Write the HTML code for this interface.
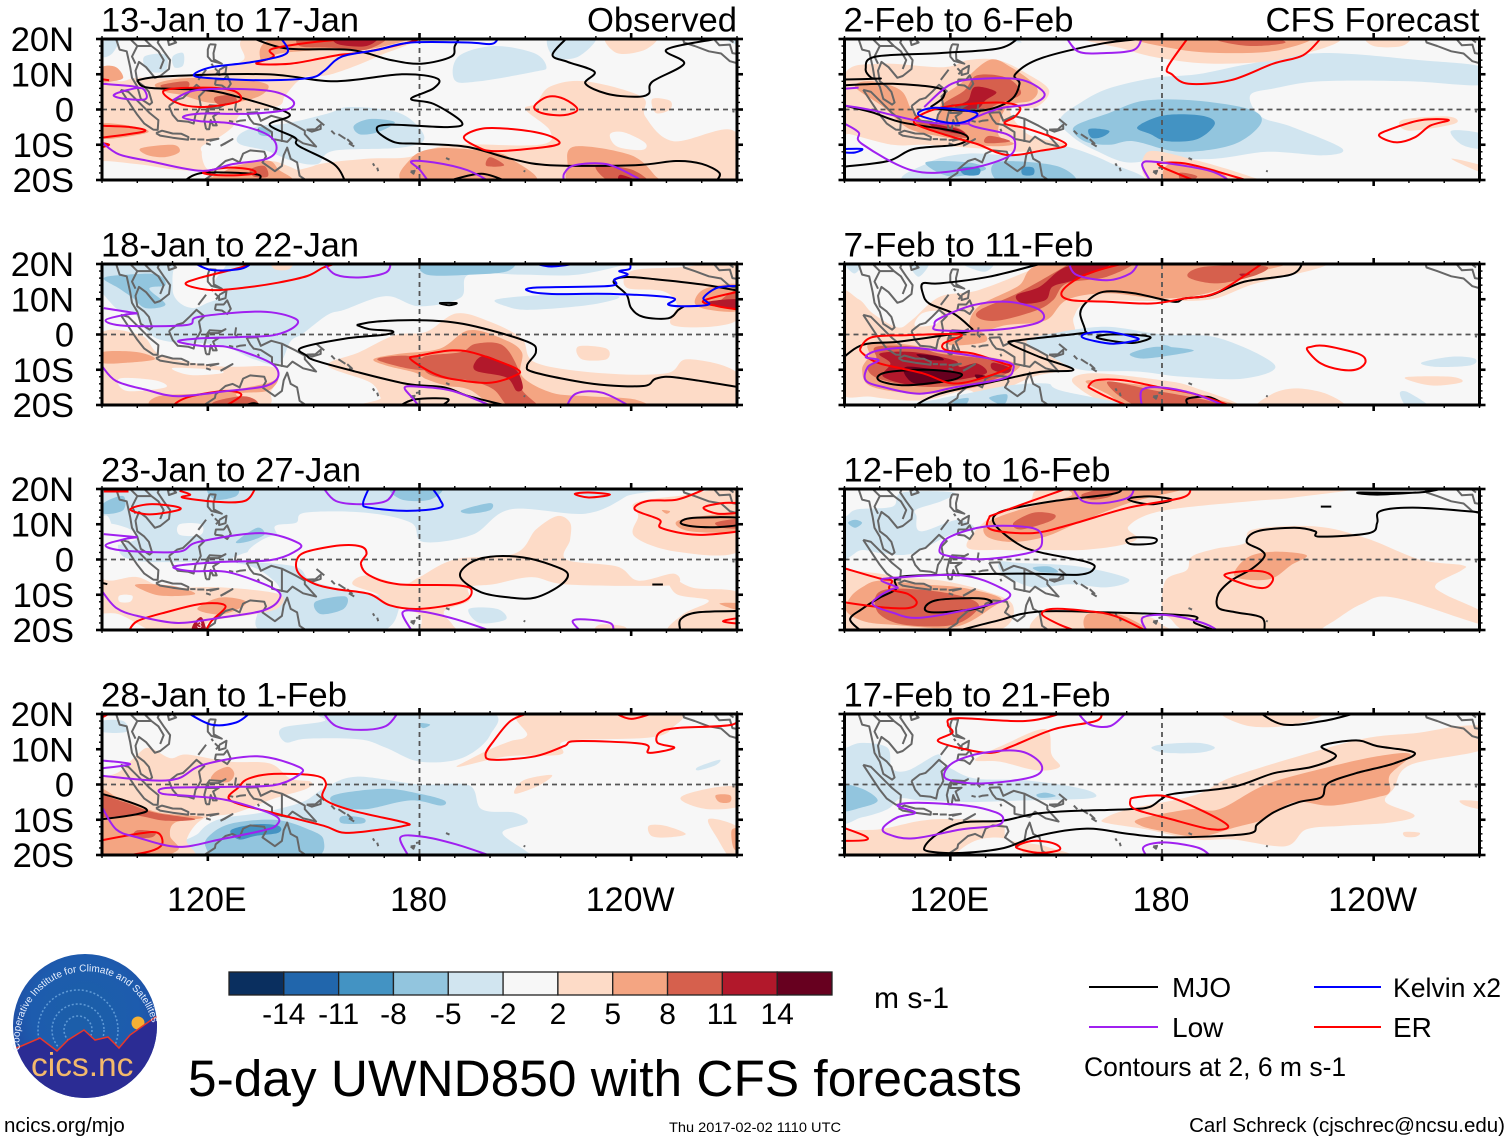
<!DOCTYPE html>
<html lang="en">
<head>
<meta charset="utf-8">
<title>5-day UWND850 with CFS forecasts</title>
<style>
html,body{margin:0;padding:0;background:#fff;}
body{width:1510px;height:1142px;overflow:hidden;}
svg{display:block;}
text{font-family:"Liberation Sans",sans-serif;fill:#000;}
</style>
</head>
<body>
<svg id="chart" xmlns="http://www.w3.org/2000/svg" width="1510" height="1142" viewBox="0 0 1510 1142">
<defs>
<radialGradient id="logo-sky" cx="50%" cy="40%" r="62%">
<stop offset="0%" stop-color="#1c5fa8"/><stop offset="60%" stop-color="#1d5cae"/><stop offset="100%" stop-color="#22459f"/>
</radialGradient>
<clipPath id="logo-clip"><circle cx="85" cy="1026" r="72"/></clipPath>
<path id="logo-arc" d="M 20 1050 A 67 69 0 1 1 154 1032"/>
</defs>
<g id="panels"></g>
<g id="colorbar"></g>

<g>
<circle cx="85" cy="1026" r="72" fill="url(#logo-sky)"/>
<g clip-path="url(#logo-clip)">
<circle cx="78" cy="1030" r="14" fill="none" stroke="#5f9ad6" stroke-width="1.5" stroke-dasharray="2 2"/>
<circle cx="78" cy="1030" r="26" fill="none" stroke="#5f9ad6" stroke-width="1.5" stroke-dasharray="2 2"/>
<circle cx="78" cy="1030" r="40" fill="none" stroke="#5f9ad6" stroke-width="1.5" stroke-dasharray="2 2"/>
<circle cx="138" cy="1023" r="6.5" fill="#f6b035"/>
<path d="M10 1050 L19 1047 L40 1038 L57 1051 L68 1040 L84 1030 L95 1040 L108 1037 L119 1048 L130 1035 L154 1018 L170 1010 L170 1110 L0 1110 Z" fill="#2b2c94" stroke="#e8372a" stroke-width="1.5"/>
</g>
<text font-size="10" style="fill:#e8f0ff"><textPath href="#logo-arc">Cooperative Institute for Climate and Satellites</textPath></text>
<text x="31" y="1076" font-size="33.5" style="fill:#f3b96b">cics.nc</text>
</g>

<text x="874" y="1008" font-size="30">m s-1</text>
<text x="188" y="1096" font-size="51.4">5-day UWND850 with CFS forecasts</text>

<g>
<line x1="1089" x2="1158" y1="987" y2="987" stroke="#000" stroke-width="2"/>
<text x="1172" y="997" font-size="28">MJO</text>
<line x1="1314" x2="1381" y1="987" y2="987" stroke="#0000ff" stroke-width="2"/>
<text x="1393" y="997" font-size="27" textLength="108" lengthAdjust="spacingAndGlyphs">Kelvin x2</text>
<line x1="1089" x2="1158" y1="1027" y2="1027" stroke="#a020f0" stroke-width="2"/>
<text x="1172" y="1037" font-size="28">Low</text>
<line x1="1314" x2="1381" y1="1027" y2="1027" stroke="#ff0000" stroke-width="2"/>
<text x="1393" y="1037" font-size="28">ER</text>
<text x="1084" y="1076" font-size="26.5">Contours at 2, 6 m s-1</text>
</g>
<text x="4" y="1132" font-size="20.5">ncics.org/mjo</text>
<text x="669" y="1132" font-size="14" textLength="172" lengthAdjust="spacingAndGlyphs">Thu 2017-02-02 1110 UTC</text>
<text x="1505" y="1132" font-size="20.5" text-anchor="end">Carl Schreck (cjschrec@ncsu.edu)</text>
</svg>

<script>
const levelKeys=[-14,-11,-8,-5,-2,0,2,5,8,11,14];
const levelColors=['#0a2f5f','#2166ac','#4393c3','#92c5de','#d1e5f0','#f7f7f7','#fddbc7','#f4a582','#d6604d','#b2182b','#67001f'];
const colorbarLabels=['-14','-11','-8','-5','-2','2','5','8','11','14'];
const latTickLabels=['20N','10N','0','10S','20S'];
const latTickValues=[20,10,0,-10,-20];
const lonTickValues=[120,180,240];
const lonTickLabels=['120E','180','120W'];
const panelTitles=['13-Jan to 17-Jan','18-Jan to 22-Jan','23-Jan to 27-Jan','28-Jan to 1-Feb','2-Feb to 6-Feb','7-Feb to 11-Feb','12-Feb to 16-Feb','17-Feb to 21-Feb'];
const panelTitleWidths=[258,258,260,246,230,250,267,267];
const seriesNames=['mjo','low','kelvin','er'];
const seriesColors=['#000000','#a020f0','#0000ff','#ff0000'];

const coastSegments=[
[94,20,95,17,97,16.5,98,12,98.5,9,100,6.5,101,3,103.5,1.4,104.2,2,103.3,5,102,6.5,100,8,99.5,11,100.5,13.5,102.5,12,105,9,106.5,9.5,109,11.5,109.3,14,107.5,16.5,105.8,19,106.5,20.5],
[98,20,100,18,98.5,15,99.5,13],[102,20,104,18,106,16.5,107.5,14,106.5,11.5],[100,18,104,18],[108,20.5,110,20,111,19,109,18.3,108.7,19.5,110,20],
[95.3,5.6,97.5,5,100,2.5,103.5,-1,106,-3,105.8,-5.8,104.5,-5.7,102,-4,100,-1.5,98,1.5,95.3,5.6],
[105.3,-6.7,107,-6,110,-6.8,112.5,-6.9,114.5,-7.8,114.4,-8.6,110,-8,106.5,-7.4,105.3,-6.7],
[115,-8.4,116.5,-8.4],[117,-8.5,119,-8.5],[119.5,-8.7,123,-8.3,120.5,-8.9],[123.6,-10.3,127,-8.4,125,-9.6,123.6,-10.3],[119.5,-9.6,120.8,-10],[130.8,-3,129,-3.2,128,-3.5],[126,-3.2,127.2,-3.5],[128,2,127.7,0,128.5,-0.8],[134.5,-6.2,134.2,-5.5],
[109,1,110,1.8,111.3,2.8,113,3.3,115,5.2,116.8,7,119,5.2,117.5,3.7,118,1,117.5,0,116.5,-1.5,116,-4,114.5,-3.5,111.5,-3.2,110,-1.5,109,1],
[119.5,-5.6,119,-3,119.8,0.2,120.5,1.2,124,1,125,1.5,123,0.4,120.3,0.4,120,-1,121.5,-1,123.2,-0.9,121.5,-2,122.5,-4.5,121.5,-4.5,120.8,-3,120.4,-5.6,119.5,-5.6],
[120.5,18.5,122.2,18.4,121.6,16,121.7,14.2,124,13,121,13.8,120,15,120,17,120.5,18.5],[117.3,8.4,119.5,11.3],[122,7,122.3,8.5,124.5,8.5,125.5,9.7,126.5,7.3,125.5,5.8,124,6.8,122,7],[123.2,11.2,125.3,12.4,125,10.3,123.2,9.8,123.2,11.2],[121,13,121.5,12.3],[122,11.7,123,10.7,122.3,10],
[131,-0.9,134,-0.8,135,-3.2,138,-1.8,141,-2.6,145,-4.6,147.5,-6,147.5,-7,150.7,-10.5,147,-9.6,144,-7.7,142.5,-9.2,138.2,-8.3,138.2,-6.4,135,-4.4,133,-4,132,-2.8,131,-0.9],[141,-2.6,141,-9.2],
[114,-22,116,-20.7,119,-20,122,-18,122.2,-17,125,-14.6,127,-14,129,-15,130,-12.5,132,-11.6,136,-12,136.5,-13.3,135.5,-15,139,-17.5,141,-16,141.5,-13,142.5,-10.8,143.5,-14,145.3,-15,146,-18.8,148.5,-20.5,150,-22],
[148,-5.7,150.5,-5.6,152,-4.3,152,-5.5,149.5,-6.3,148,-5.7],[150.8,-2.7,153,-4.5],[155,-6,156,-7],[157,-7,159,-8.3],[159.5,-8.4,161,-9.8],[160,-9.6,161.5,-10.5],[166.8,-15.3,167.2,-16],[168,-16.5,168.3,-17.5],[177.5,-17.6,178.6,-17.4,178.3,-18.2,177.5,-17.6],[179,-16.6,180,-16.4],[187.5,-13.8,188.5,-14.2],[190,-21,190.2,-19.7],[209.5,-17.4,210,-17.6],
[254.5,20.5,255,19,258,18,262,16.5,265.5,15.9,268,13.7,270.5,13],[263,20.5,265,18.2,268,18.4,268.7,16,270.5,15.7],[267,20.5,269,19],[268.7,-0.5,269.3,-0.6]
];

const fills1=[
[2,88,9,95,8,100,9,110,9,120,11,130,14,133,21,178,21,168,15,155,10,147,9,142,4,140,1,130,-1,127,-5,123,-8,118,-11,122,-15,128,-15,140,-15,145,-21,88,-21],
[0,88,-15,100,-15.5,110,-17,120,-18,120,-21,88,-21],[0,118.6,-11,125,-11,129,-13,127,-16,120,-17],
[2,177,-13.5,189,-10,214,-10,217,-6,210,0,213,1.7,217,6.5,227,8,243,3.6,244,-2,252,-9,269,-6,271,-20.5,150,-20.5,150,-16,165,-14],
[0,234,-7,238,-6.5,244,-9.5,243,-11.5,236,-10.5],[2,233,21,247,21,244,17,236,16],[2,246,3,251,2.5,251,0,247,-1],
[-2,190,8.3,191,15,201,18,212.5,16,216,12,212.5,10.7,197,8],[-2,217,21,230,21,225,15,218,15],[-2,129,-7,134.8,-4.6,142,-4,153.8,-1.2,160.5,0.7,174.8,-1.2,181.4,-8,174.8,-10.8,155.7,-11.7,151,-15.5,144,-14.6,136.7,-11.7,129,-9.8],
[-2,90,19,95,20.5,93,16,90,15],[-2,102,15,108,15.5,108,11,103,11],[-2,110,15,113,16,113,12.5,110.5,12],[-2,265,21,271,21,271,18],
[-5,161.4,-4.6,166,-2.7,173,-3.6,168,-6.5,163,-7],[-5,134.5,-5,138,-6,137,-7.5,134.5,-7],
[5,90,12,94,12,96,9,93,8,90,8],[5,105,7,110,8.5,118,9,130,8.5,137,7,135,4,128,2,120,2,113,4,108,5],[5,135,14,141,16,155,17,165,17,176,19.5,177,20.5,140,20.5],[5,90,-4,100,-5,103,-6.5,95,-8,90,-8],[5,101,-11,110,-10,112,-12,108,-13.5,103,-13],[5,128,-16,137,-14.5,140,-17,143,-20.5,120,-20.5,124,-18],
[5,177.5,-14,185,-11,200,-12,206,-14,212,-21,177,-21],[5,224,-10.5,240,-13,247,-19,248,-21,224,-21,222,-16],
[8,107,7,114,8,114,6,108,6],[8,122,3.5,127,4,128,2,123,1.5],[8,148,21,146,18,155,17.5,165,17,170,21],[8,132,-17,136,-16,137,-19,133,-19],[8,200,-13.5,204,-15.8,199,-16],[8,230,-16,240,-17,245,-21,235,-21],
[11,156,21,157,18.5,165,18,168,21],[11,237,-18.5,243,-21,237,-21]
];
const contours1=[
['mjo',0,100,8.3,108,9.4,136.7,10,155.7,8,175,10,185,8.8,184,6,177.6,3,184,1.6,192,-3.6,188,-5,171,-4.3,168,-6,173,-9.3,180,-9.7,193.5,-10.6,206,-14,217,-15.8,241,-15.8,252.7,-14.6,260,-15.4,265,-18,264,-20.5],
['mjo',0,100,8.3,103,6.2,118,5.6,127,4,143,-1.2,137.5,-4.3,144.7,-8,145.7,-10.3,155.7,-15.5,159,-20.5],
['mjo',0,132,20.5,142.4,17.3,160.5,16.9,172,14,180.5,13,189,15,190,18,191.5,20.5],
['mjo',0,222,20.5,217.7,15.5,222,13.5,229.6,10.7,227,7.4,233,4.5,241,3.6,245,4.5,246,7.9,255,13,250,17,264,20],
['mjo',0,113,-20.5,118.6,-18,133.8,-18.4,134,-20.5],['mjo',0,189,-20,197.6,-18.2,205,-20.5],
['er',0,90,-4.6,98,-5,102,-6.2,90,-8],['er',0,90,-9.5,92,-10,90,-10.7],['er',0,90,8.6,92,8.3],
['er',1,107.6,5.4,118.6,6.2,127,5.4,129.5,3,126,1.6,117.6,0.7,111,2],
['er',0,176.7,20.5,155.7,19.7,138.6,17.3,138.6,15,133.8,13,143.3,13,152,14.5,156.7,15.4,165,16.4,177.6,19.2,181,20.5],
['er',1,192.6,-7.8,198,-5.4,207.8,-5.7,216.3,-7.3,219.6,-9.7,212.6,-11,201,-11.8,196.4,-10.6],
['er',1,212.5,0.8,216.3,3.6,221,3,224.8,0,221,-1.6,215,-1.1],
['er',1,118.6,-18,125,-16.5,132,-17,133,-18.2,125,-18.7],
['low',0,90,7.3,98.5,6.6,101,6],['low',1,93.3,4,96.7,5.4,101.4,6,102.4,3,96.7,3],
['low',0,110,2.6,117.6,5.6,136.7,5.4,144,2.6,142.4,0,132,-1.2,117.6,-1.2,112.9,-2.2,117.6,-3.3,127,-4,136.7,-7,139.5,-10.8,136.7,-14,127,-15.5,118,-17.4,103.3,-14.6,94.8,-12.7,90,-9.3],
['low',0,182.6,-20.5,180,-17,177.7,-14.7,184,-15,193.5,-17.2,200,-20.5],['low',0,221,-20.5,221,-18.2,224,-15.8,233,-15.5,241,-19,243,-20.5],
['kelvin',0,140.5,20.5,142.4,16,132.8,13.5,121,12,116,9.7,122,8.8,136.7,8.3,149,9,153,11,158,15,168,16.9,177.6,19,193.7,19,200.5,18.6,202.4,20.5]
];

const fills2=[
[-2,88,15,90,20.5,240,20.5,241,20.5,225,17,209,17,194,17,191.6,10.4,180,8,170.5,10.9,158.7,7,154,5.6,147,0.3,143.4,-2,140,-8.4,133,-7,123.4,-3,109,-2,103.4,0.3,98.7,6.5,95.2,6.5,90.5,11.3],
[0,112,21,125,21,122,15,124,11,120,9,116,7.5,112,9,110,13],[2,138,21,144,21,143,18.5,139,18.5],[-2,202,10,217.5,11.3,236.3,10.9,229,8.5,211.6,7,204.6,8],
[-5,90.5,16,95,13,98.7,10.4,102.3,7.5,108,8.5,103.4,13,108,14,105.8,17,97.5,17],[-5,182,21,182,17,195,17,205,18,205,21],
[2,89,-0.5,101,-0.2,107,-6,123,-9,137,-9,140,-11,138,-16,133,-21,89,-21],[0,110,-9.5,122,-10,124,-11,115,-11.5],[0,95,-12.5,105,-13,108,-15,97,-16],
[2,154,-8.8,163,-5,173,-0.2,182,0.8,190.5,6,200,3.6,209,-1.2,213,-8,232,-11,250,-11,256,-7,270,-10.8,271,-21,170,-21,169,-18,166,-13.6],
[2,225,-3.4,233,-4,233,-7,226,-7],[2,240,18,253,19,271,19.5,271,6,265,2.5,251.6,2.7,253,8.5,249,12.3,238.7,13.3],
[5,90,-5,100,-5,105,-7,97,-8,90,-8],[5,106,-17.5,122,-16.5,136,-14,140,-12.5,137,-16,128,-17,134,-21,106,-21],[5,258,9,261,13,271,14,271,7,262,7],
[5,167,-7,174,-5.5,185.8,-4,194,1.2,203.5,-1.2,209,-5,209,-11.7,217.5,-16.5,228,-17.5,241,-18.4,242,-21,206,-21,194,-15.6,188,-14.6,182,-12.7,178.7,-10.8,170.5,-8.8],
[8,168,-7,176,-6,183,-7.5,183,-10,176,-9.5],[8,181,-6.4,191.6,-5,196,-2.6,203.5,-3,208,-9.8,209,-15.6,214,-21,206,-21,201,-15.6,194,-13,188,-12.7,182,-10.8],[8,122,-19,130,-17.5,134,-19,133,-21,122,-21],[8,265,9,271,13,271,7],
[11,196,-7.5,198.7,-6,203.4,-7.9,207.6,-10.3,209.3,-15,207.5,-16,204.6,-12.2,196,-10.3],[11,261,9,271,10,271,7]
];
const contours2=[
['mjo',0,162.2,2.7,168,3.7,182,4,194,2.7,210.5,-2,213,-5,210.5,-8.8,212.8,-10.8,229.3,-14,243.4,-14.6,247,-12.5,252.8,-12.2,271,-15],
['mjo',0,162.2,2.7,165.8,1.5,172.2,1,170.5,0,158.7,-1.2,146.4,-3.8,148,-6,150.5,-7.4,161,-10.3,176.4,-14,187,-15,194,-17.5,206,-20.5],
['mjo',0,174,-20.5,178.7,-18.4,188,-18.3,185.8,-20.5],['mjo',0,129,-20.5,133,-19.5,136,-20.5],['mjo',1,185.8,8.9,190.5,8.9,188.4,8.3],
['mjo',0,271,12.3,259.9,14.2,246.8,15.7,238.7,16.3,235,15,238.7,11.3,240,7.5,243.4,5,250.5,4.6,253.4,7,255,8],
['er',0,157.6,20.5,152.8,19,148.2,16.6,139.9,14.7,130.4,13.3,121,12.6,113.8,14.2,117.5,16,129.3,19,133,20.5],
['er',1,177.5,-7,180,-6,189.3,-4.5,196.4,-5.5,207.6,-9.8,207,-11.7,200,-13.7,191.6,-13,184.6,-11.3],
['er',0,111,-20.5,111,-19.4,115.4,-17.5,125,-16,129.5,-17,126.5,-19.4,124,-20.5],
['er',0,271,12.3,260.5,9.6,264.6,8,271,7],
['low',0,90.5,7.5,100,6],['low',0,100,6,96.4,5.6,91,4,96.4,2.5,114,2.7,117.4,5,135,6.5,144.6,4.6,144.6,2.2,138.7,-0.2,129.3,-0.7,116.4,-1.2,111.6,-2,118.6,-3.3,125.8,-3.6,137.5,-7.9,140,-11.7,136.4,-14.6,125.8,-16,111.6,-17.5,102.2,-15.6,94,-13.2,90,-9],
['low',0,152.8,20.5,156.2,17,163.4,16.2,170.5,17.6,171.9,20.5],
['low',0,180,-20.5,178,-18,175.8,-15,180,-14.8,189.3,-16,201,-20.5],['low',0,221.6,-20.5,224.5,-16.7,231.8,-16.5,239.9,-20.5],
['kelvin',0,115.8,20.5,121,18.3,129.3,18.6,132.8,20.5],['kelvin',0,211.6,20.5,217.5,19.3,227,20.5],
['kelvin',0,239.6,20.5,239.6,18.6,236.6,18,239,17,235.3,15.7,234,13.8,212.8,13.3,211,12.3,217.5,11.5,235,11.5,251.6,10.4,250.5,8.5,255,8,262,8.5,260.5,10.4,264.6,13.3,271,13.8]
];

const fills3=[
[-2,90,21,241,21,238.7,18,227,13,205.8,14.2,195,7,181,5,177.6,10.4,164.6,13.3,147.6,13.3,145,10.4,139,9.4,140,4.6,130,1.7,128,-0.2,144.6,-2,149.3,-6,160,-8.8,170.5,-10.8,174,-14.6,167,-21,137.5,-21,134,-15.6,140,-10.8,138.7,-6,128,-1,98.7,-0.2,94,6.5,91.6,12.3,88,12],
[0,112,10,118,10,118,7,112,7],[0,131.6,2.7,137.5,6.5,144.6,6.5,145.8,2.7,140,0.3,132.8,0.3],[0,90,10,97,9,100,6,94,4,90,4],[-2,194,-14,202,-14,204.5,-17,197,-18],
[-5,90.5,16,96,18,96,14,90.5,13],[-5,120,20.5,128,20.5,128,18,122,17],[-5,172,20.5,186,20.5,183,17,175,17],[-5,192,14,200,16,200,14,194,13],[-5,128,5,134,9,136,7,131,5],[-5,150.5,-12,159,-10.5,158.5,-14,152,-15.5],
[2,161,-7,165,-4.5,175,-7,180,-5,190,0,207,1.7,213,8.5,219,12.3,222.7,10.4,222.7,5.6,221.6,0,236,-2,242,-6,252,-4,253,-7,242,-7.5,221,-7,211.7,-5,201,-7,194,-7.9,194,-11.7,187,-14.6,189.3,-18.4,190.5,-21,181,-21,180,-15.6,170.5,-12.7,168,-9.8],
[2,250.5,-4.5,257.5,-8,271,-9.8,271,-21,251,-21,254.6,-15.6,262,-11.7,252.8,-9.8],[2,231,-18.5,238,-19,238,-21,230,-21],[2,241,16,253,18,271,19,271,2.7,253,2.2,241,6.5,242,12.3],
[2,92.8,-6,100,-5,108,-7.9,123.4,-7.9,140,-9.8,140,-13.7,132.8,-15.6,121,-17.5,116.4,-21,106,-21,95,-15.6,88,-14.6,88,-6],[0,95,-10.2,98.5,-10.2,98,-12,95,-12],
[5,100,-7,110,-7.5,116.4,-9.8,107,-10.3,101,-8.4],[5,117,-14,123.4,-10.8,130.5,-11.7,129.3,-13.7,123.4,-15.6],[5,253,10.9,264.6,12.8,271,12.3,271,8,256.7,8],[5,265,-12.5,271,-12.5,271,-14.5],[5,248.7,14,251,13.7,250,13],
[8,264,10.5,271,11.5,271,9,266,9],[11,115.6,-21,115.8,-18.5,118,-16.3,119.2,-18.5,119.3,-21]
];
const contours3=[
['mjo',1,191.6,-5,194,-1.2,200,0.8,209.3,0.6,217.5,-1.6,222,-4,219.8,-7.4,212.8,-10.8,205.8,-10.8,197.5,-9.3],
['mjo',0,90,-6.6,91.5,-7],['mjo',0,246,-7.1,249,-7.1],
['mjo',1,254,10.4,257.5,11.8,271,11.8,271,10,264.6,9.2,257.5,9.4],['mjo',0,254,-20.5,254,-17,258.8,-15,271,-14.6],
['er',0,90.5,19.3,97.5,19.3],['er',1,98,14.2,103.4,15.7,111,15,111.6,14,103.4,12.8],
['er',0,112,19.5,115,18.4,112.8,17.6,122,16.4,130.4,16.6,133.4,20],['er',1,224,18.6,228,19,234,18.4,228,17.6],
['er',1,145.2,-0.2,148,2.2,157.5,4,163.4,3.7,165,1.7,163.4,-1.2,165.8,-4.5,174,-7,191.6,-7.4,194.8,-9.3,191.6,-12.2,180,-14,171.6,-13,165.8,-9.8,156.4,-8.4,150.5,-7,145.8,-4],
['er',0,97.5,-20.5,100,-17.5,108,-15,118.6,-12.5,125,-13.2,121,-17.5,119.3,-20.5],
['er',0,261,20,253,17,244.6,16.6,241,14.2,248,11.3,248.6,8.9,258.7,7,271,8],['er',0,271,16,265.8,16,260.5,14.7,264.6,13,271,13.3],['er',0,271,-16.5,266,-17.5,271,-18.3],
['low',0,90.5,7.2,100,6.3],['low',0,100,6.3,96.4,5.8,91,4,96.4,2.5,111.6,2.2,117.4,5,135,7.5,145.8,4.6,144.6,2.2,137.5,-0.2,123.4,-0.7,110.5,-2,115.3,-3.3,125.8,-3.6,139,-8.4,140,-11.7,135.2,-14.6,123.4,-16.5,111.6,-18,100,-16,94,-13.7,90,-9],
['low',0,152.6,20.5,156.3,16.6,163.4,15.7,170.5,16.6,173.4,20.5],['low',0,178,-20.5,175.2,-15,181,-14.8,190.5,-17,201,-20.5],['low',0,225.8,-20.5,223.4,-17.5,226.9,-17,234,-18,235,-20.5],
['kelvin',0,165.8,20.5,164,16,165.8,14.7,176.4,13.8,185.8,14.7,185.8,17,183.4,20.5]
];

const fills4=[
[-2,141,16,153,18,153,21,198,21,200,14,192,7.5,180,6.5,170.5,10.4,163,12.8,148,13,142,12],[-2,152.8,-1.2,162,2.2,180,0,194,-0.2,197.6,-7,207,-8,210.6,-10.8,203.5,-13.7,210.6,-19.2,211,-21,115,-21,117.5,-13.7,123.4,-9.8,135,-8,146.7,-5],[-2,90,18,96,18,97,15,90,15],[-2,259,5,265,7,264,5.5,259,4],
[2,191,5,205,8,220,8.5,221.5,12.3,245,13.3,251.6,16,251.6,21,210,21,210.5,14,205.8,12.3,200,10,194,7],[2,207,-2.6,209.5,1.2,217.5,2.7,214,-0.2],
[2,88,-1,95,3.7,100,8.5,103.4,10.4,109.3,7.5,114,8.5,125.8,6.5,137.5,6,143.4,1.7,149.2,0.8,148,-1.2,138.7,-4,128,-8,118.6,-9.8,114,-15.6,115,-21,88,-21],
[2,255,-3,264.6,-0.7,271,-1,271,-6,262,-7,255,-5],[2,262,-9.8,271,-12.7,271,-21,268.2,-21,264.6,-15.6],[2,245,-11.7,249.6,-11.7,255.5,-14,250.5,-15,245.8,-14.6],
[5,122.2,3.6,125.8,5,127.5,3,125.8,0.7,121,1.2],[5,88,-2,95.2,-4,105.8,-7.9,118.6,-9.3,110.7,-10.8,109.3,-14.6,111.6,-18.5,103.4,-21,88,-21],[5,264,-3,268,-3,268,-5,265,-5],[5,268.5,-13,271,-13,271,-18.5,269,-18],
[8,88,-3,96.4,-5,104.6,-7.9,116.4,-9.8,108,-10.3,99.4,-8.8,88,-9],[8,100,-13,105,-13.5,104,-15,99,-15],
[-5,121,-14,127,-11,139,-10,148,-12.5,152.8,-15.6,149.3,-21,124.6,-21,119.3,-17.5],[-5,155.8,-3,170,-1.2,180,-2.6,187,-4.5,186,-6,177.5,-4.5,164.6,-7,156.6,-6],[-5,158,-9,164,-9.5,164,-11,158,-11],[-5,180,17.4,183,17,181,16],
[-8,126.5,-13,133.4,-11.3,140,-11.7,140,-13.7,133.4,-14.6,128.8,-15.6]
];
const contours4=[
['mjo',0,89,-2.4,96.4,-4.5,102.6,-7,100,-8.4,89,-10],
['er',0,89,18.5,92.8,20.5],['er',1,126.4,-4.5,128.8,-0.7,131.6,1.7,138.7,3,150.5,2.5,153.5,0.3,152.8,-4,161,-7.4,175.8,-10.8,175.8,-11.7,168,-12.9,158.7,-13.7,152.8,-11.7,139.9,-8.4],
['er',0,89,-16,100,-14,105.8,-13.7,107,-17,103.4,-19,95,-20.5],
['er',0,211.6,20.5,205.8,18,201,12.3,198.7,8.5,201,7,212.8,8,221,10.9,224.5,12.3,243.4,11.5,245,9,252.2,10.4,247.5,11.8,248,14.7,252.8,16,268.7,17,270,20.5],
['er',0,235,20.5,240,18.6,247,20.5],
['low',0,90,6.8,98,5.8,90,4.6],['low',0,90,2.5,103.4,1.2,111.6,1.7,118.7,5.6,134,8,145.8,5,145.8,2.7,138.7,-0.2,123.4,-0.7,108,-1,107,-2.6,115.3,-3.3,125.8,-4.5,139,-8.8,139.3,-11.7,135,-13.2,123.4,-15.6,111.6,-17.7,100,-15,94,-12.7,90,-6.4],
['low',0,152.6,20.5,156.3,16.6,163.4,15.5,170.5,16.6,174,20.5],['low',0,177,-20.5,174.6,-15,181,-14.8,190.5,-17,201,-20.5],
['kelvin',0,114,20.5,121,17,128,17.6,132.2,20.5]
];

const fills5=[
[-2,151,-3,157,2,165,6,178,9,190,10,205,13,225,16,253,14,271,12,271,7,250,8,225,8,212,6,205,4,208,-2,217,-5,231,-11,226,-13,210,-12,195,-14,180,-14,170,-15,162,-12,155,-8],
[-2,114,-15,125,-12.5,140,-13,150,-10,165,-15,172,-21,110,-21],[-2,262,-6,271,-7,271,-11,265,-10],[-2,128,21,140,19,135,21],
[-5,155,-5,165,-1,175,2.5,190,2.5,205,0,208,-4,200,-10,185,-12,172,-9,165,-10,158,-9],[-5,113,-15,125,-15,130,-17,120,-19],[-5,133,-15,150,-16,155,-21,135,-21],
[-8,173,-5,180.4,-1.7,191,-1.7,195,-4,190,-8.4,181.5,-9,176.8,-7],[-8,159.4,-5.5,165,-6,163,-7.8,160,-8],[-8,123,-16.5,128,-16.5,128,-18.5,124,-18.5],[-8,140.5,-16.5,143.5,-16.5,143.5,-18.5,140.5,-18.5],
[2,90,10,100,13,118,12,125,14,133.6,14,142,10,148,5.4,144.4,0.7,137,0,142,-7,152.8,-10,141,-12,127.6,-11,113,-10,103.6,-10,91.6,-7,89,-7],
[2,160,21,170,17,180,14.5,195,13,215,14.5,228,21],[2,176,-12,190,-14.5,205,-19,208,-21,178,-21],[2,248,-3,261,-2,263,-4,250,-6],[2,262,-14,271,-16,271,-18],[2,238,21,250,21,248,18,240,18],
[5,97.6,8,106,5.4,109.6,-1,115.6,-4,118,3.5,122.8,7.3,131,14,137.2,12,144.4,6.4,143,2.6,136,0.7,133.6,-7,138,-9.8,130,-10.3,119,-8,108.4,-5.5,101,0.7,93,6.4],
[5,172,21,185,17,200,16,214,17,220,21],[5,182,-15.5,195,-17,198,-21,182,-21],
[8,118,1.6,124,5.4,127.6,9.7,136,9,140,4.5,133.6,1.6,129,-0.3,119,-0.3],[8,110.8,-3,121.6,-5,125,-8,118,-7,112,-5],[8,131,-7.5,137,-9,130,-9.5],[8,196,19.5,205,18,215,19,208,21,196,21],[8,185,-18,190,-19,186,-21],
[11,121.6,1,125,2.6,127,6.4,133,5,130,2.6,127.6,0.2,122,0],[11,114,-4,122,-5.5,124,-7,118,-6]
];
const contours5=[
['mjo',0,90,8.5,100,8.8,97.6,9,96,11.6,98.8,15,117,16,133.6,17.3,139.6,20.5],
['mjo',0,90,6.9,103.6,7.3,116.8,6,118,3.5,114.4,0.7],
['mjo',0,115.6,0.2,128.8,-0.3,137,2.6,139.6,7.3,138.4,10,145.6,14.5,163.6,18.8,180.3,20.5],
['mjo',0,90,1.1,97.8,-0.8,106,-3.6,120.4,-6,125,-8,121.6,-10,109.6,-11.2,102.4,-14.6,90,-16.2],
['er',1,110,-4,112.3,-1.2,120,1,133.4,2,139.6,0.7,138.4,-2,135.4,-4,142,-5.5,152.8,-9.8,145.6,-11.7,136,-12.9,127.6,-9.8,119.3,-7.4],
['er',0,187.5,20.5,181.6,12,182.8,10,187.5,7.3,199.5,8.3,211.5,13,220,15.4,225.3,20.5],
['er',1,241.5,-7.4,245,-5.5,253.5,-3,261.3,-3,256,-4.6,251.7,-7.9,246.3,-9.3],
['er',0,178.6,-15.2,187.6,-15.5,205.5,-20.5],['er',0,178.6,-15.2,180.4,-16.5,190,-20.5],
['low',0,90,5.9,94,6.2],
['low',0,112.6,0.7,120.4,7.3,130,8.8,140.6,8.3,146.7,4.5,143,1.6,133.6,0.2,125.2,-4,136,-7,138.4,-9.8,136,-13.6,124,-17,109.6,-17.4,95,-9.8,94,-6.5,90,-4],
['low',0,90,1.1,97.8,-0.2,113,-3.6,125.2,-4],
['low',0,152.8,20.5,156.4,16.4,163.6,16,172,16.9,174.4,20.5],['low',0,176.8,-20.5,174.4,-15.5,178.6,-14.9,193.5,-17.4,199.6,-20.5],
['kelvin',1,110.8,-1.2,115.6,0.5,127,-0.8,126,-2.7,121.6,-3.9,115.6,-3],['kelvin',0,90,-11.2,95,-11.2,93,-12.2,90,-12.2]
];

const fills6=[
[2,88,11,94,10,98,6,105,2,109,4,117,10.7,128,12.6,145,19.2,149,21,225,21,205,14,194,10,180,9.5,160,9.3,155,5,155,0,147,-1,145.4,-3.5,155,-9.2,143.5,-12,130,-17.7,124.5,-15.8,112,-18.7,98,-17.7,88,-15],
[0,110,2.5,112,6,117,6.5,116,3],[2,155,-14,160,-11,180,-13,189,-15,202,-21,170,-21],[2,208,-21,211,-17,218,-15.3,227,-17,231,-21],[2,250,-12,262,-12,265,-13.5,257,-14.5,250,-13],
[-2,141.6,-2,149,0.3,164,2.2,180,0,196,-1,212,-8.7,203,-12.5,186,-12,173,-10.5,157,-10,147,-5.4],[-2,253.5,-8,262,-6.3,268.6,-6.8,267.6,-8.7,258,-9.2],[-2,247.4,-16.7,250,-16.5,256.4,-21,250,-21],[-2,124.5,-16.8,137,-14.4,147.3,-13.9,151,-15.8,169,-21,108.5,-21,117,-18.2],
[-2,90,20.5,92.8,17.3,95,20.5],[-2,108.4,20.5,111,16.4,114,20.5],[-2,122.7,20.5,129.5,17.8,132,20.5],
[-5,171,-5.4,178.6,-3.5,189,-4.5,180.5,-6.2,174,-6.8],[-5,180,-3,183,-4,180,-6],[-5,120,-19,125,-18,124,-20],[-5,131,-18,136,-17,135,-20],
[5,125.5,2.2,127.9,7.9,139,13.6,151,21,212.8,21,205,17,194,12,180,10.2,164.4,11.7,153,9.8,147,4,136,2.7,130,1.2],
[5,97,-2.6,105.6,-2.6,118,-4.5,131,-6.4,138.8,-8.2,138.8,-10,131.2,-14,114,-16.8,98,-14.9,95,-10,97,-6],[5,159,-13,179.5,-15,192.8,-17.7,202,-21,173.8,-21,164.4,-16.8],[5,120,0,128,1,130,-2,120,-3],
[8,128.3,6.9,139,11.7,153,19.7,153,21,172,21,164.4,16.4,153,14.5,149.2,9.8,144.5,6.9,134,4,128.3,4.5],[8,187.3,16.4,192,19.2,209,19.4,207,17,195.8,14.5],
[8,99,-3.5,110.3,-3.5,116.9,-5.4,129.3,-6.8,137,-8.7,136,-11,129.3,-13.5,114,-14.9,101,-13,96.6,-10,99,-6.8],[8,164.4,-13.5,177.6,-15.8,192.8,-18.7,197.5,-21,175,-21],
[11,138.8,11.2,145.4,13.6,153,19.2,165,19.7,154.9,15.4,149,13.6,147,9.8,140.6,8.8],
[11,100,-5.4,109.6,-5,121,-7.3,122.7,-9.2,127.5,-8.2,130.2,-11,121.7,-13,110.3,-14.4,101,-12,103,-8.2],[11,132,-8,137,-9.5,136,-11,132,-10],[11,202,17.2,205,17.2,203,16.4],
[14,107.5,-9.2,116,-10,122.7,-11,120.7,-12.5,111,-14,107.5,-12],[14,110.5,-5.6,116.5,-6.2,118,-7.3,113,-7],[14,127,-11.4,130,-11.8,128,-12.8]
];
const contours6=[
['mjo',0,147.3,20.5,131,16.4,117,14.5,112.2,14.5,112.2,11.7,114,8.8,120.8,6,125.5,2.2,126,1.2,121.8,0.3,105.6,-2,95,-3,88,-8],
['mjo',0,220,20.5,216.6,17,203.4,15,194,11.2,186.3,10.2,183.3,9.3,172,11.7,163.4,12.1,158.7,9.3,156.8,6,158.2,1.2,156.8,0.3,139.7,-1.6,136.9,-2.6,145.4,-6.4,154.9,-10,145.4,-10.6,134,-13,117,-16.8,109.4,-20.5],
['mjo',1,99.4,-12,102.7,-10.6,113.2,-10,122.7,-11,121.8,-12.5,117,-13.5,107.5,-14.4,100.9,-13.5],
['mjo',1,161.5,-0.7,165.3,0,173.8,-0.2,176.7,-1,171.6,-2.4,164.4,-1.6],['mjo',0,187.3,-20,187.3,-18.2,193,-17.7,197.3,-19.6,198,-20.5],
['er',1,94.7,-3.5,98,-0.7,107.5,-0.2,123,0,118,-2.6,119,-4.5,126.4,-5.4,135,-8.2,137,-9.2,130.2,-12,120.8,-13.9,112.2,-11,100,-8.2,95.2,-5.4],
['er',0,173.8,20.5,167.2,19.7,157,16.4,151.6,12.1,154,9.8,164.4,9.3,177,8.8,186.3,10.2,195.8,12,209,20.5],
['er',0,159,-14.9,161.3,-13,169,-13,179.4,-15,189,-16.8,200.4,-20.5],['er',0,159,-14.9,164.4,-17.7,171,-20.5],
['er',1,221.2,-4.4,222.3,-3.5,226,-3.2,235.5,-5.4,237.7,-7.6,235.5,-9.8,230.8,-10,225,-8.2],
['low',1,115.5,2.7,117,4.6,126.4,8.3,136,9.3,144.5,7.4,146.5,4.6,142.5,2.7,131,1.2,116.7,1.2],
['low',1,96,-6.4,99.7,-4.5,109.4,-3.8,122,-5.4,136,-7.8,137.8,-10,135,-12.5,121.7,-14.9,111.3,-16.8,100.9,-14.9,96,-13,96.6,-9.2,99.7,-7.3],
['low',0,153.5,20.5,155.8,16.9,164.4,15.4,171,17.3,173.4,20.5],['low',0,174.3,-20.5,174.3,-15.8,179.5,-15,189,-16.8,198.5,-20.5],
['kelvin',1,157.3,-0.7,158.7,0.3,164.4,0.8,172,-0.7,172.9,-1.6,166.3,-2.6,160.6,-1.8]
];

const fills7=[
[-2,88,-1,91.6,0.8,95,2.7,101,1.7,109.3,1.7,120,7,127,8.5,122.2,11.3,111.6,8,110.4,12.3,110.4,14.2,117.6,16.6,121,19,106.4,19,103.6,15,93.6,14.2,90.5,12.3,88,12],
[-5,91,10.4,93,11.3,95,10.4,93,9],
[-2,134,-0.7,140,-1,156.4,-2,170.5,-5.5,164.6,-7.9,154,-7,143.4,-7.9,135,-4],[-5,143.4,-2.3,148,-2,150.5,-3.6,145.8,-3.6],
[2,124.6,3.7,131.6,12.3,142,16.6,154,21,234,21,217.5,17.6,205.8,16.6,180,13.8,170.5,9.4,173,6,168,4,157.5,2.7,146.8,2.7,135,2.7],
[2,180,-15,181,-6,187,-3,188.4,0.8,195,3,203.4,4.6,205.8,8.5,223.4,9.4,238,6,253,0,265,-1.6,265,-3,257.7,-7,260,-9.8,271,-15,271,-18.5,245.8,-10.8,236.4,-12.7,227,-18.5,220,-21,190,-21,182,-16.5],
[2,90.5,-3,100,-4,105.8,-5,117.6,-6,129.4,-8.8,137.6,-12.7,135.2,-19.4,121,-21,88,-21,88,-3],[2,147,-14,150.5,-14.6,173,-15.6,180,-18.5,180,-21,144.6,-21],
[5,130.4,6.5,130.4,10.4,140,14.2,154,18,155,21,187.8,21,170.5,16,156.3,10.4,147,6.5,137.6,5],[5,200.5,-3.6,204.6,0.8,211.7,2.2,221,1.2,216.6,-1.6,210.8,-5.5,202.5,-5.5],
[5,91.6,-10.8,95,-7.9,100,-6,111.6,-7,123.4,-8,134,-10.8,131.7,-13.7,121,-19.2,103.6,-18.5,95.4,-17.5,90.5,-14.6],[5,158.7,-15.6,168,-15.6,176.4,-21,160,-21],
[8,98.7,-10.8,102.4,-8.4,114,-8.8,124.6,-10.8,128,-13.7,121,-18.5,107,-18.5,100,-15.6],[8,137.9,10.4,143.7,13.3,149.5,12.8,148.3,10.9,140,8.5],[8,157.5,18.6,168,21,165.6,18,160,17]
];
const contours7=[
['mjo',0,95,-20.5,91.6,-17,95,-14,100,-10.8,104.6,-8.4,104.6,-5.5,111.6,-4.5,141,-4,156.4,-4.3,160.7,-2.6,158.7,-0.7,144.7,2.2,138.9,4.6,133,9.4,132.4,12.3,136.6,14.2,149.5,16.6,166,18.6,169,20.5],
['mjo',0,121,-20.5,132.8,-17.5,144.6,-14.8,164.6,-15,188.3,-16,189.3,-18,196.4,-20.5],
['mjo',0,209,-20.5,208.3,-16.5,201,-15,196,-13.7,196,-9.8,199.6,-6,205.5,-2.6,209,0.8,208,2.7,204,5,207,8,217.5,9,223.4,8,224.6,6.5,238.7,7.5,241,10.4,242,13.8,252.8,14.7,271,13.3],
['mjo',1,112.8,-13.7,116.4,-11.5,128,-11,131.7,-12.2,127,-14,115.3,-15],['mjo',1,169.9,5.6,172.8,6.3,178.1,6,177.5,4.6,171.5,4.3],['mjo',1,170.5,17.3,176.4,17.9,182.8,17,177.6,15.7,172.8,16.2],['mjo',0,225,15,228,15],
['mjo',0,261,20.5,252.8,19,235.8,19,241,18.4,252,19],
['er',0,89,-2.2,100,-5.4,103.4,-6,102.8,-8.4,108,-9.8,110.5,-12.2,108,-13.8,100,-13.5,89,-12],
['er',0,154,20.5,134,13.3,131,11.8,131.6,8.5,143.4,7.5,154,9.9,170.5,14.7,185.8,17.6,188.2,20.5],
['er',1,197.7,-4.5,203.4,-3.3,209.3,-3.6,211.5,-5.5,209.3,-8,204.6,-7.4],
['er',0,176,-20.5,166.6,-16,158.7,-14.6,149,-14,146,-15.6,151,-18.5,156.4,-20.5],
['low',1,100.5,-6,104,-5.2,123.4,-4.5,135,-8.4,136.6,-10.8,130.4,-13,111.6,-16.5,103.4,-15,98,-12.7,100,-10.3,103.4,-8.4,105,-7.9],
['low',1,117,3.2,120,6.5,130.4,9.4,143.4,8.9,146,5.6,143.4,2.2,129.3,0.1,118.7,1.2],
['low',0,154.6,20.5,157.5,16.6,163.4,16,170.5,17.6,172.2,20.5],['low',0,175.8,-20.5,174.5,-16.5,182,-15.8,191.6,-18,196.4,-20.5]
];

const fills8=[
[-2,88,9,90.5,10.4,95,11.8,102.2,10.4,103.4,4.6,108,4,116.4,8.5,117.6,5.6,120,4.6,127,1.7,141,1.2,155,-0.7,161,-2.6,158.7,-4,141,-4.5,124.6,-5,111.6,-4.5,105.8,-4,102.2,-7,95,-9.3,88,-10],
[-2,177,10.4,181,11.5,190.5,11.8,195,10.4,190.5,9,181,9],[-5,88,-0.2,95,-1.2,99.4,-4.5,95,-6.5,88,-7.4],[-5,144.4,-2.9,147,-2.3,149.9,-3.3,145.8,-3.8],
[2,197.5,21,204.5,16.6,217.5,17,225.7,21],[2,127,7,135.2,11.3,147,15.7,148.7,8.5,151,5,144.6,4,134,6.5],
[2,163.4,-9.8,170.5,-7,189.3,-3,200,2.2,223.4,9.4,238.7,13.3,252.8,14.7,264.6,16.6,271,16,271,10,250.5,5.6,245.8,-1,243.4,-5,251.6,-8.8,244.6,-10.8,231.6,-11.7,221,-12.7,215,-17.5,200,-15.6,189.3,-15.6,175.4,-12.7,164.6,-11],
[2,88,-13.7,100,-12.7,111.6,-10.3,120,-9.8,134,-10.8,136.4,-15.6,147,-17.5,150.5,-21,88,-21],[0,127,-16,136,-15.5,140,-21,122,-21],
[2,248.6,-13.5,253,-13.7,252,-14.8,249,-14.8],[2,264.6,-4.5,271,-5,271,-7,266,-6],
[5,173.4,-9.8,188,-7,196.2,-7,209,-0.2,223.4,4,241,8,250.5,8.5,244.6,2.7,244.6,-2,241,-3.6,228,-6,217.5,-5,209,-9.8,200.6,-12.2,190.4,-14.8,180,-13.2,174,-11.7]
];
const contours8=[
['mjo',0,207.5,20.5,214.5,17,225.7,18,235.8,20.5],
['mjo',1,112.8,-17.5,116.4,-14,123.4,-10.8,134.6,-10.3,143.4,-8.4,152.8,-7.6,170.5,-7,176.4,-6.4,180,-4,183.5,-2.6,200,-0.7,211.7,3.2,222.5,5,229.3,8,225.3,10.9,235,12.5,241,10.9,251.6,9,245.8,6,235,3.2,227,0.3,225.2,-3.6,218.8,-5,211.7,-7.9,207,-11.3,204,-14,182.4,-15,170.5,-14,158.7,-12.5,144.7,-14.6,135.2,-18,123.4,-19.4,114,-19],
['er',0,152.7,20.5,141.2,18,121.7,18.8,119.3,17,120.6,14.7,116.5,12.3,124.7,9.9,131.8,9,137.6,10.9,149.4,15.7,161.2,18,163,20.5],
['er',1,171,-4.5,172.8,-3.6,181,-3.3,190.5,-7,198.7,-11.7,194,-12.7,182.4,-9.8,172.4,-7],
['er',0,89,-12,95.8,-14.6,95.8,-15.8,89,-16],['er',1,138.7,-17.5,143.4,-16,149.3,-16.7,151,-18.5,145.8,-19.4,140.6,-18.6],
['low',1,118.3,3.2,121.3,6.5,129.5,9,140,9.4,145.8,5.6,143.4,2.2,129.5,0.3,120,1.2],
['low',1,105,-6,110.6,-5.2,124.6,-6,132.9,-7.9,135,-9.8,132.9,-11.7,123.4,-12.7,109.3,-15.3,102.2,-14,101,-12.2,105,-9.3,110,-8],
['low',0,156,20.5,159.5,17,165.4,16.6,170,20.5],['low',0,175.8,-20.5,174.6,-18,177.5,-16.7,182.4,-16.5,190.5,-18,194,-20.5]
];

const panelFills=[fills1,fills2,fills3,fills4,fills5,fills6,fills7,fills8];
const panelContours=[contours1,contours2,contours3,contours4,contours5,contours6,contours7,contours8];

const SVGNS='http://www.w3.org/2000/svg';
const LON0=90,LON1=270,LAT_TOP=20,LAT_BOT=-20,PW=635,PH=141;
const colLeft=[102,844.5],rowTop=[39,264,489,714];
const xAxis=(left)=>(lon)=>left+(lon-LON0)*PW/(LON1-LON0);
const yAxis=(top)=>(lat)=>top+(LAT_TOP-lat)*PH/(LAT_TOP-LAT_BOT);

function mk(tag,parent,attrs){
  const el=document.createElementNS(SVGNS,tag);
  for(const k in attrs){el.setAttribute(k,attrs[k]);}
  parent.appendChild(el);
  return el;
}
function smooth(pts,closed){
  const n=pts.length;
  if(n<3){return 'M'+pts.map(p=>p[0].toFixed(1)+' '+p[1].toFixed(1)).join('L');}
  let d='M'+pts[0][0].toFixed(1)+' '+pts[0][1].toFixed(1);
  const end=closed?n:n-1;
  for(let i=0;i<end;i++){
    const p0=closed?pts[(i-1+n)%n]:pts[Math.max(i-1,0)];
    const p1=pts[i];
    const p2=closed?pts[(i+1)%n]:pts[i+1];
    const p3=closed?pts[(i+2)%n]:pts[Math.min(i+2,n-1)];
    const c1x=p1[0]+(p2[0]-p0[0])/6,c1y=p1[1]+(p2[1]-p0[1])/6;
    const c2x=p2[0]-(p3[0]-p1[0])/6,c2y=p2[1]-(p3[1]-p1[1])/6;
    d+='C'+c1x.toFixed(1)+' '+c1y.toFixed(1)+' '+c2x.toFixed(1)+' '+c2y.toFixed(1)+' '+p2[0].toFixed(1)+' '+p2[1].toFixed(1);
  }
  return d+(closed?'Z':'');
}
function project(flat,start,x,y){
  const out=[];
  for(let i=start;i+1<flat.length;i+=2){out.push([x(flat[i]),y(flat[i+1])]);}
  return out;
}
function label(parent,x,y,txt,size,anchor,name){
  const t=mk('text',parent,{x:x,y:y,'font-size':size,'text-anchor':anchor});
  
  
  t.textContent=txt;
  return t;
}

const root=document.getElementById('panels');
const defs=document.querySelector('defs');
panelTitles.forEach((title,idx)=>{
  const col=idx<4?0:1,row=idx%4;
  const L=colLeft[col],T=rowTop[row];
  const x=xAxis(L),y=yAxis(T);
  const g=mk('g',root,{});
  
  
  const clip=mk('clipPath',defs,{id:'clip'+idx});
  mk('rect',clip,{x:L,y:T,width:PW,height:PH});
  const bg=mk('rect',g,{x:L,y:T,width:PW,height:PH,fill:levelColors[5]});
  
  
  const inner=mk('g',g,{'clip-path':'url(#clip'+idx+')'});
  
  
  panelFills[idx].forEach(f=>{
    const color=levelColors[levelKeys.indexOf(f[0])];
    const p=mk('path',inner,{d:smooth(project(f,1,x,y),true),fill:color,stroke:'none'});
    
    
  });
  coastSegments.forEach(c=>{
    const pts=project(c,0,x,y);
    const p=mk('path',inner,{d:'M'+pts.map(q=>q[0].toFixed(1)+' '+q[1].toFixed(1)).join('L'),fill:'none',stroke:'#666','stroke-width':2,'stroke-linejoin':'round'});
    
    
  });
  const eq=mk('line',inner,{x1:L,x2:L+PW,y1:y(0),y2:y(0),stroke:'#555','stroke-width':1.8,'stroke-dasharray':'5 4'});
  
  
  const dl=mk('line',inner,{x1:x(180),x2:x(180),y1:T,y2:T+PH,stroke:'#555','stroke-width':1.8,'stroke-dasharray':'5 4'});
  
  
  panelContours[idx].forEach(c=>{
    const color=seriesColors[seriesNames.indexOf(c[0])];
    const p=mk('path',inner,{d:smooth(project(c,2,x,y),c[1]===1),fill:'none',stroke:color,'stroke-width':2,'stroke-linejoin':'round'});
    
    
  });
  const fr=mk('rect',g,{x:L,y:T,width:PW,height:PH,fill:'none',stroke:'#000','stroke-width':3});
  
  
  const ticks=mk('g',g,{stroke:'#000'});
  
  
  for(let lon=LON0;lon<=LON1;lon+=10){
    const major=lonTickValues.indexOf(lon)>=0,len=major?6:3,w=major?2.6:1.4;
    mk('line',ticks,{x1:x(lon),x2:x(lon),y1:T-len,y2:T,'stroke-width':w});
    mk('line',ticks,{x1:x(lon),x2:x(lon),y1:T+PH,y2:T+PH+len,'stroke-width':w});
  }
  for(let lat=LAT_BOT;lat<=LAT_TOP;lat+=2){
    const major=lat%10===0,len=major?6:3,w=major?2.6:1.4;
    mk('line',ticks,{x1:L-len,x2:L,y1:y(lat),y2:y(lat),'stroke-width':w});
    mk('line',ticks,{x1:L+PW,x2:L+PW+len,y1:y(lat),y2:y(lat),'stroke-width':w});
  }
  const tt=label(g,L-1,T-7.5,title,34.4,'start','panel-title');
  tt.setAttribute('textLength',panelTitleWidths[idx]);
  tt.setAttribute('lengthAdjust','spacingAndGlyphs');
  if(col===0){
    latTickValues.forEach((v,i)=>{
      label(g,74,y(v)+12,latTickLabels[i],34.5,'end','lat-tick-label');
    });
  }
  if(row===3){
    lonTickValues.forEach((v,i)=>{
      label(g,x(v)-1,911,lonTickLabels[i],34,'middle','lon-tick-label');
    });
  }
  if(idx===0){
    const o=label(g,L+PW,T-7.5,'Observed',34.4,'end','observed-label');
    o.setAttribute('textLength','150');
    o.setAttribute('lengthAdjust','spacingAndGlyphs');
  }
  if(idx===4){
    const o=label(g,L+PW,T-7.5,'CFS Forecast',34.4,'end','cfs-forecast-label');
    o.setAttribute('textLength','214');
    o.setAttribute('lengthAdjust','spacingAndGlyphs');
  }
  if(idx===2){
    const t=label(g,x(117.6),y(-19.4),'3',9,'middle','contour-label');
    t.setAttribute('style','fill:#fff');
  }
});

const bar=document.getElementById('colorbar');
const BX=229,BY=972,BW=603,BH=23;
const barX=(i)=>BX+i*BW/levelColors.length;
levelColors.forEach((c,i)=>{
  const r=mk('rect',bar,{x:barX(i),y:BY,width:BW/levelColors.length,height:BH,fill:c,stroke:'#222','stroke-width':1.3});
  
  
});
colorbarLabels.forEach((t,i)=>{
  label(bar,barX(i+1),1024,t,30,'middle','colorbar-label');
});
</script>
</body>
</html>
